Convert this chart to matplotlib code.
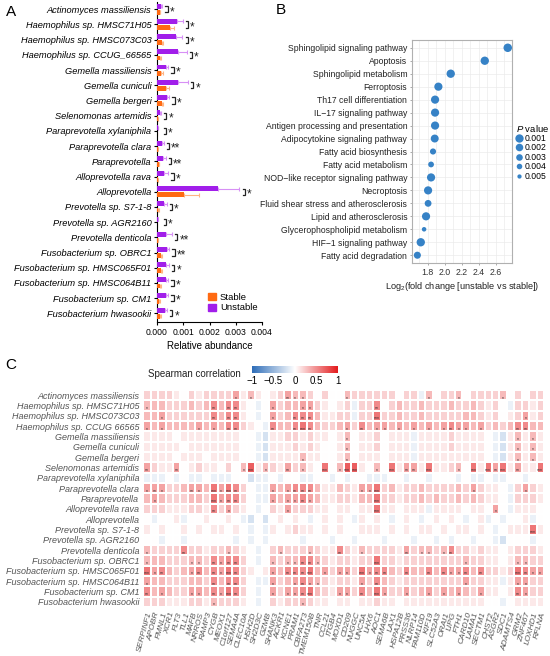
import numpy as np
import matplotlib
matplotlib.use("Agg")
import matplotlib.pyplot as plt
from matplotlib.colors import LinearSegmentedColormap
from matplotlib.patches import Patch
from matplotlib.lines import Line2D

plt.rcParams['font.family'] = ['Liberation Sans', 'DejaVu Sans']
plt.rcParams['mathtext.fontset'] = 'custom'
plt.rcParams['mathtext.rm'] = 'Liberation Sans'
plt.rcParams['mathtext.it'] = 'Liberation Sans:italic'

# ---------------- panel A : relative abundance ----------------
taxa = [
    "Actinomyces massiliensis", "Haemophilus sp. HMSC71H05", "Haemophilus sp. HMSC073C03",
    "Haemophilus sp. CCUG_66565", "Gemella massiliensis", "Gemella cuniculi", "Gemella bergeri",
    "Selenomonas artemidis", "Paraprevotella xylaniphila", "Paraprevotella clara", "Paraprevotella",
    "Alloprevotella rava", "Alloprevotella", "Prevotella sp. S7-1-8", "Prevotella sp. AGR2160",
    "Prevotella denticola", "Fusobacterium sp. OBRC1", "Fusobacterium sp. HMSC065F01",
    "Fusobacterium sp. HMSC064B11", "Fusobacterium sp. CM1", "Fusobacterium hwasookii",
]
unstable = [0.00015, 0.00075, 0.00072, 0.00080, 0.00033, 0.00079, 0.00037, 0.00011, 0.00002,
            0.00018, 0.00024, 0.00027, 0.00234, 0.00027, 0.00002, 0.00033, 0.00037, 0.00036,
            0.00033, 0.00033, 0.00030]
unstable_err = [0.00005, 0.00023, 0.00025, 0.00033, 0.00010, 0.00040, 0.00010, 0.00004, 0.00001,
                0.00008, 0.00009, 0.00016, 0.00080, 0.00010, 0.00001, 0.00024, 0.00010, 0.00010,
                0.00010, 0.00010, 0.00008]
stable = [0.00010, 0.00050, 0.00018, 0.00011, 0.00017, 0.00033, 0.00018, 0.00004, 0.00001,
          0.00003, 0.00006, 0.00002, 0.00103, 0.00005, 0.00001, 0.00003, 0.00015, 0.00015,
          0.00013, 0.00008, 0.00013]
stable_err = [0.00003, 0.00015, 0.00005, 0.00003, 0.00004, 0.00013, 0.00005, 0.00001, 0.000005,
              0.00001, 0.00002, 0.00001, 0.00058, 0.00002, 0.000005, 0.00001, 0.00004, 0.00004,
              0.00004, 0.00003, 0.00004]
sig_a = ["*", "*", "*", "*", "*", "*", "*", "*", "*", "**", "**", "*", "*", "*", "*", "**", "**",
         "*", "*", "*", "*"]
abund_ticks = [0.000, 0.001, 0.002, 0.003, 0.004]

# ---------------- panel B : KEGG pathways ----------------
pathways = [
    "Sphingolipid signaling pathway", "Apoptosis", "Sphingolipid metabolism", "Ferroptosis",
    "Th17 cell differentiation", "IL\u221217 signaling pathway", "Antigen processing and presentation",
    "Adipocytokine signaling pathway", "Fatty acid biosynthesis", "Fatty acid metabolism",
    "NOD\u2212like receptor signaling pathway", "Necroptosis", "Fluid shear stress and atherosclerosis",
    "Lipid and atherosclerosis", "Glycerophospholipid metabolism", "HIF\u22121 signaling pathway",
    "Fatty acid degradation",
]
log2fc = [2.74, 2.47, 2.07, 1.925, 1.886, 1.886, 1.886, 1.882, 1.862, 1.839, 1.839, 1.804, 1.804,
          1.78, 1.757, 1.718, 1.678]
pvals = [0.0008, 0.0010, 0.0010, 0.0012, 0.0012, 0.0012, 0.0012, 0.0015, 0.0035, 0.0038, 0.0012,
         0.0012, 0.0028, 0.0012, 0.0048, 0.0010, 0.0025]
p_legend = [0.001, 0.002, 0.003, 0.004, 0.005]
fc_ticks = [1.8, 2.0, 2.2, 2.4, 2.6]

# ---------------- panel C : Spearman heatmap ----------------
heat_rows = [t.replace("CCUG_66565", "CCUG 66565") for t in taxa]
genes = ["SERPINF1", "APOBR", "FMNL1", "XCR1", "FLT3", "TLL1", "MAFB", "NRROS", "RAMP3", "CYGB",
         "MEOX1", "C1orf127", "SEMA4A", "CLEC10A", "HSH2D", "SH2D3C", "GZMB", "SHANK3", "ACKR1",
         "KCNE1", "PRAM1", "CBFA2T3", "TMEM150B", "TNR", "CCL21", "ITGB4", "MOXD1", "CD209",
         "NUGGC", "UNC5A", "LHX6", "AOC1", "SEMA6B", "LAX1", "HSPA12B", "PRSS36", "NLRP14",
         "FAM110D", "KIF19", "SLC52A3", "ORAI1", "LIPG", "FTH1", "CARD10", "LAMA1", "SECTM1",
         "CHST2", "ASGR2", "SDC1", "ADAMTS4", "GRM2", "ZNF467", "LOXHD1", "RFLNA"]
# one char per cell: digit = r in tenths, a/b/c = -0.1/-0.2/-0.3
corr_rows = [
    "2222102122" "2241310124" "3320200322" "2222022a30" "2230222230" "2022",
    "3332223235" "35510a0423" "34421012a2" "2502322322" "232232120a" "2212",
    "3342222225" "35510a0423" "55531122a2" "2622322322" "2223321201" "2412",
    "4343333434" "355210a533" "5653223425" "3443434343" "4544342323" "5533",
    "1111011111" "11100ab112" "2121101301" "120111a111" "1211110ab1" "3131",
    "1111101111" "11100ab111" "2121001301" "120111a111" "1211110ab1" "3131",
    "1111011101" "11100ab111" "1311001301" "110111a111" "1111110ab1" "3131",
    "4211401211" "0203713214" "2310603771" "0306144161" "1230616461" "4116",
    "aaa0a0aa0a" "aa00baa0a0" "0aa00a0a00" "aaa00a00a0" "00a0aa0aa0" "0a00",
    "4442234436" "46520aa434" "5553113214" "4623122322" "223242110a" "2421",
    "3432223326" "45520aa434" "4543112213" "3622122323" "223232110a" "2221",
    "2221112215" "24210a0214" "2221101101" "16110111a1" "111011040a" "1110",
    "0a001a0010" "010ab0b010" "10a01010a1" "010a010a01" "010a01a0a0" "01a0",
    "1010010101" "1010a0a101" "2110101001" "1101010110" "1011010a01" "1161",
    "00a00a0000" "00a0a0a000" "0a000a00a0" "00a000a00a" "0a00a00ab0" "00a0",
    "3222252212" "23210a0232" "2232115213" "2222142332" "3522121101" "2221",
    "3332223325" "45520a0323" "3553212212" "2622122222" "2223221101" "3322",
    "6453234535" "4652101435" "5563424426" "4553253353" "5445352212" "6544",
    "4332223325" "35520aa423" "4543212214" "2532122222" "22242211a1" "4422",
    "5343224435" "46520a0424" "4563214425" "3642242342" "4343241101" "5422",
    "2221112213" "22210a0212" "2321101101" "1211011111" "11111100a0" "1111",
]
# significance per row: {column index: number of stars}
heat_stars = [
    {12: 1, 14: 1, 19: 2, 20: 1, 21: 1, 27: 1, 38: 1, 42: 1, 48: 1},
    {0: 1, 9: 2, 11: 2, 12: 2, 17: 1, 21: 1, 22: 1, 31: 2},
    {2: 1, 9: 2, 11: 2, 12: 2, 17: 1, 20: 2, 21: 2, 22: 2, 31: 3, 51: 1},
    {0: 1, 2: 1, 7: 1, 9: 1, 11: 2, 12: 2, 17: 2, 20: 2, 21: 3, 22: 2, 27: 1, 29: 2, 31: 1,
     32: 1, 34: 1, 36: 1, 38: 1, 40: 1, 41: 2, 42: 1, 43: 1, 45: 1, 50: 2, 51: 2},
    {27: 1, 50: 1, 52: 1},
    {27: 1, 50: 1, 52: 1},
    {21: 1, 27: 1, 50: 1, 52: 1},
    {0: 2, 4: 2, 13: 1, 14: 3, 16: 1, 19: 2, 21: 1, 24: 3, 26: 1, 27: 3, 28: 3, 31: 1, 33: 3,
     35: 2, 36: 2, 38: 3, 42: 1, 44: 3, 46: 3, 47: 2, 48: 3, 50: 2, 53: 3},
    {},
    {0: 1, 1: 2, 2: 1, 6: 2, 7: 1, 9: 3, 10: 1, 11: 3, 12: 2, 17: 1, 19: 1, 20: 2, 21: 2, 22: 2,
     29: 1, 30: 1, 31: 3, 44: 1, 51: 1},
    {1: 1, 9: 3, 10: 1, 11: 2, 12: 2, 17: 1, 19: 1, 20: 1, 21: 2, 22: 1, 31: 3},
    {9: 2, 11: 1, 19: 1, 31: 3, 47: 1},
    {},
    {52: 3},
    {},
    {0: 1, 5: 2, 11: 1, 18: 1, 22: 1, 26: 2, 29: 1, 35: 2, 37: 1, 38: 1, 40: 1, 41: 2},
    {0: 1, 6: 1, 7: 1, 9: 2, 10: 1, 11: 2, 12: 2, 17: 1, 19: 1, 20: 1, 21: 2, 22: 2, 23: 1,
     31: 3, 43: 1, 50: 1, 51: 1},
    {0: 3, 1: 1, 2: 2, 6: 1, 7: 2, 9: 2, 10: 1, 11: 3, 12: 2, 17: 1, 19: 2, 20: 2, 21: 2, 22: 3,
     24: 1, 26: 1, 27: 1, 29: 3, 30: 1, 31: 2, 32: 2, 35: 2, 38: 2, 40: 2, 41: 1, 42: 1, 43: 2,
     45: 2, 50: 3, 51: 2, 52: 1, 53: 1},
    {0: 1, 9: 2, 11: 2, 12: 2, 17: 1, 20: 1, 21: 2, 22: 1, 23: 1, 29: 1, 31: 2, 43: 1, 50: 1,
     51: 1},
    {0: 2, 2: 1, 6: 1, 7: 1, 9: 2, 10: 1, 11: 3, 12: 2, 17: 1, 19: 1, 20: 1, 21: 2, 22: 3,
     26: 1, 27: 1, 29: 2, 31: 3, 32: 1, 35: 1, 38: 1, 40: 1, 42: 1, 45: 1, 50: 2, 51: 1},
    {9: 1, 21: 1},
]

# ---------------------------------------------------------------
W, H = 550, 656
fig = plt.figure(figsize=(W / 100, H / 100), dpi=100)


def box(x0, y0, x1, y1):
    # pixel box -> figure fraction
    return [x0 / W, 1 - y1 / H, (x1 - x0) / W, (y1 - y0) / H]


PURPLE, ORANGE = "#A11EEA", "#FF6A12"

# --- A ---
ax_a = fig.add_axes(box(157, 2, 262, 322))
y = np.arange(len(taxa))
bh, off = 0.32, 0.2
ax_a.barh(y - off, unstable, height=bh, color=PURPLE, zorder=3)
ax_a.barh(y + off, stable, height=bh, color=ORANGE, zorder=3)
ax_a.errorbar(unstable, y - off, xerr=[np.zeros(len(y)), unstable_err], fmt="none",
              ecolor="#D790F5", elinewidth=0.8, capsize=1.5, capthick=0.8, zorder=2)
ax_a.errorbar(stable, y + off, xerr=[np.zeros(len(y)), stable_err], fmt="none",
              ecolor="#FFB583", elinewidth=0.8, capsize=1.5, capthick=0.8, zorder=2)
for i in range(len(taxa)):
    end = max(unstable[i] + unstable_err[i], stable[i] + stable_err[i])
    bx = max(end + 0.0002, 0.00033)
    t = 0.00008
    ax_a.plot([bx - t, bx, bx, bx - t], [i - off, i - off, i + off, i + off],
              color="#222222", lw=0.9, solid_joinstyle="miter", clip_on=False)
    ax_a.text(bx + 0.00008, i + 0.18, sig_a[i], fontsize=8.5, va="center", ha="left",
              color="#222222")
ax_a.set_ylim(20.57, -0.48)
ax_a.set_xlim(0, 0.004)
ax_a.set_yticks(y)
ax_a.set_yticklabels(taxa, fontsize=6.7, style="italic")
ax_a.set_xticks(abund_ticks)
ax_a.set_xticklabels([f"{v:.3f}" for v in abund_ticks], fontsize=6.2)
ax_a.tick_params(axis="y", length=2.5, width=0.8, pad=1.5)
ax_a.tick_params(axis="x", length=2.5, width=0.8, pad=2)
for s in ["top", "right"]:
    ax_a.spines[s].set_visible(False)
for s in ["left", "bottom"]:
    ax_a.spines[s].set_linewidth(0.8)
ax_a.set_xlabel("Relative abundance", fontsize=7, labelpad=3)
ax_a.legend(handles=[Patch(color=ORANGE, label="Stable"), Patch(color=PURPLE, label="Unstable")],
            loc="lower left", bbox_to_anchor=(0.49, 0.03), frameon=False, fontsize=6.8,
            handlelength=0.8, handleheight=0.8, handletextpad=0.4, labelspacing=0.15,
            borderpad=0, borderaxespad=0)

# --- B ---
ax_b = fig.add_axes(box(412, 40, 512, 263))
yb = np.arange(len(pathways))


def dot_size(p):
    return 6 + (0.0055 - p) / 0.0045 * 30


BLUE = "#3682C6"
ax_b.scatter(log2fc, yb, s=[dot_size(p) for p in pvals], color=BLUE, zorder=3, linewidths=0)
ax_b.set_ylim(16.6, -0.6)
ax_b.set_xlim(1.615, 2.79)
ax_b.set_xticks(fc_ticks)
ax_b.set_xticklabels([f"{v:.1f}" for v in fc_ticks], fontsize=6.3, color="#333333")
ax_b.set_xticks(np.arange(1.7, 2.8, 0.2), minor=True)
ax_b.set_yticks(yb)
ax_b.set_yticklabels(pathways, fontsize=6.2, color="#222222")
ax_b.tick_params(axis="both", which="major", length=1.5, width=0.5, color="#888888", pad=2)
ax_b.tick_params(axis="x", which="minor", length=0)
ax_b.grid(True, which="both", color="#ebebeb", lw=0.5, zorder=0)
ax_b.set_axisbelow(True)
for s in ax_b.spines.values():
    s.set_color("#b0b0b0")
    s.set_linewidth(0.8)
ax_b.set_xlabel("Log$_2$(fold change [unstable vs stable])", fontsize=6.6, labelpad=2,
                color="#222222")
handles = [Line2D([], [], ls="none", marker="o", color=BLUE, markeredgewidth=0,
                  markersize=np.sqrt(dot_size(p)), label=f"{p:.3f}") for p in p_legend]
leg = ax_b.legend(handles=handles, title="$P$ value", loc="upper left",
                  bbox_to_anchor=(1.04, 0.63), frameon=False, fontsize=6.2,
                  title_fontsize=6.8, handlelength=0.6, handletextpad=0.4,
                  labelspacing=0.05, borderpad=0, borderaxespad=0, alignment="left")

# --- C ---
code = {"a": -0.1, "b": -0.2, "c": -0.3}
corr = np.array([[code[c] if c in code else int(c) / 10 for c in row] for row in corr_rows])
cmap = LinearSegmentedColormap.from_list("bwr_soft", ["#2E6DB8", "#FFFFFF", "#E31A1C"])
ax_c = fig.add_axes(box(143.3, 390, 544, 607))
mesh = ax_c.pcolormesh(corr, cmap=cmap, vmin=-1, vmax=1, edgecolors="white", linewidth=0.2)
for i, stars in enumerate(heat_stars):
    for j, n in stars.items():
        ax_c.text(j + 0.5, i + 0.78, "*" * n, ha="center", va="center", fontsize=3.6,
                  color="#2a2a2a")
ax_c.set_xlim(0, len(genes))
ax_c.set_ylim(len(heat_rows), 0)
ax_c.set_xticks(np.arange(len(genes)) + 0.5)
ax_c.set_xticklabels(genes, rotation=75, ha="right", rotation_mode="anchor", fontsize=6,
                     style="italic", color="#555555")
ax_c.set_yticks(np.arange(len(heat_rows)) + 0.5)
ax_c.set_yticklabels(heat_rows, fontsize=6.5, style="italic", color="#555555")
ax_c.tick_params(length=0, pad=3)
for s in ax_c.spines.values():
    s.set_visible(False)

cax = fig.add_axes(box(252, 366, 338, 373))
cb = fig.colorbar(mesh, cax=cax, orientation="horizontal", ticks=[-1, -0.5, 0, 0.5, 1])
cb.outline.set_visible(False)
cb.set_ticklabels(["\u22121", "\u22120.5", "0", "0.5", "1"])
cax.tick_params(length=0, labelsize=7, pad=2)
fig.text(148 / W, 1 - 374 / H, "Spearman correlation", fontsize=7, ha="left", va="center",
         color="#222222")

# panel letters
fig.text(11 / W, 1 - 12 / H, "A", fontsize=11, ha="center", va="center")
fig.text(281 / W, 1 - 10 / H, "B", fontsize=11, ha="center", va="center")
fig.text(11 / W, 1 - 365 / H, "C", fontsize=11, ha="center", va="center")

fig.savefig("out.png", dpi=100)
